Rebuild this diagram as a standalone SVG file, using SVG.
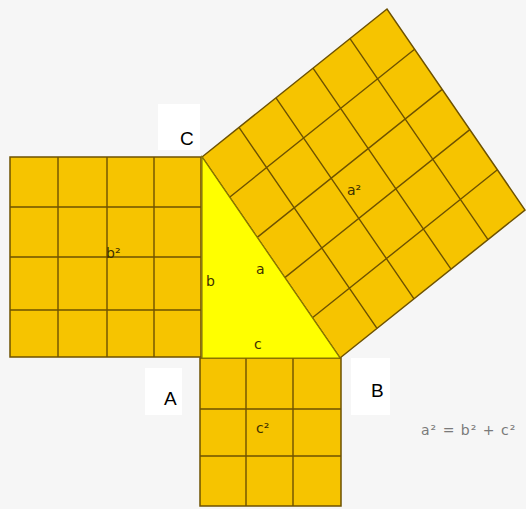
<svg xmlns="http://www.w3.org/2000/svg" width="526" height="509" viewBox="0 0 526 509">
<style>
.sq{fill:#f6c400;stroke:#6e5200;stroke-width:1.5}
.gl{stroke:#6e5200;stroke-width:1.4;fill:none}
.tri{fill:#ffff00;stroke:#8a7a00;stroke-width:1.2}
.box{fill:#ffffff}
.lbl{font-family:"Liberation Sans",Arial,sans-serif;font-size:19px;fill:#000}
.in{font-family:"DejaVu Sans",sans-serif;font-size:14px;fill:#3e3000}
.f{font-family:"DejaVu Sans",sans-serif;font-size:14px;fill:#7a7a7a;letter-spacing:1px}
</style>
<rect x="0" y="0" width="526" height="509" fill="#f6f6f6"/>
<g id="square-b">
<rect class="sq" x="10" y="157" width="191" height="200"/>
<path class="gl" d="M58 157V357M107 157V357M154 157V357M10 207H201M10 257H201M10 310H201"/>
<text class="in" x="106" y="258">b²</text>
</g>
<g id="square-c">
<rect class="sq" x="200" y="358" width="141" height="148"/>
<path class="gl" d="M246 358V506M293 358V506M200 409H341M200 456H341"/>
<text class="in" x="256" y="433">c²</text>
</g>
<g id="square-a">
<polygon class="sq" points="202,157 387,9 525,210 340,358"/>
<path class="gl" d="M239 127.4L377 328.4M276 97.8L414 298.8M313 68.2L451 269.2M350 38.6L488 239.6M229.6 197.2L414.6 49.2M257.2 237.4L442.2 89.4M284.8 277.6L469.8 129.6M312.4 317.8L497.4 169.8"/>
<text class="in" x="347" y="195">a²</text>
</g>
<g id="triangle">
<polygon class="tri" points="202,157 202,358 340,358"/>
<text class="in" x="206" y="286">b</text>
<text class="in" x="256" y="274">a</text>
<text class="in" x="254" y="349">c</text>
</g>
<g id="label-C">
<rect class="box" x="158" y="104" width="42" height="46"/>
<text class="lbl" x="180" y="145">C</text>
</g>
<g id="label-A">
<rect class="box" x="145" y="368" width="37" height="47"/>
<text class="lbl" x="164" y="405">A</text>
</g>
<g id="label-B">
<rect class="box" x="351" y="358" width="39" height="57"/>
<text class="lbl" x="371" y="397">B</text>
</g>
<g id="formula">
<text class="f" x="421" y="435">a² = b² + c²</text>
</g>
</svg>
